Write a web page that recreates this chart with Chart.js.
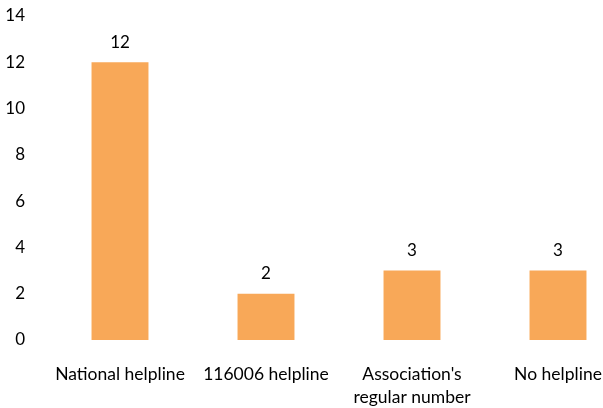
<!DOCTYPE html>
<html>
<head>
<meta charset="utf-8">
<script src="https://cdn.jsdelivr.net/npm/chart.js@4/dist/chart.umd.min.js"></script>
<style>
  html, body { margin: 0; padding: 0; background: #fff; overflow: hidden; }
  #wrap { width: 631px; height: 408px; }
</style>
</head>
<body>
<div id="wrap"><canvas id="helplineChart" width="631" height="408"></canvas></div>
<script>
const categories = [
  "National helpline",
  "116006 helpline",
  ["Association's", "regular number"],
  "No helpline"
];
const counts = [12, 2, 3, 3];
const yTicks = [0, 2, 4, 6, 8, 10, 12, 14];

const FONT = "Lato, 'Open Sans', sans-serif";

// value printed above each bar
const barValues = {
  id: "barValues",
  afterDatasetsDraw(chart) {
    const ctx = chart.ctx;
    const meta = chart.getDatasetMeta(0);
    ctx.save();
    ctx.font = "17px " + FONT;
    ctx.fillStyle = "#000";
    ctx.textAlign = "center";
    ctx.textBaseline = "middle";
    meta.data.forEach((bar, i) => {
      ctx.fillText(String(counts[i]), bar.x, bar.y - 20);
    });
    ctx.restore();
  }
};

const ctx = document.getElementById("helplineChart").getContext("2d");

new Chart(ctx, {
  type: "bar",
  data: {
    labels: categories,
    datasets: [
      {
        data: counts,
        backgroundColor: "#F8A858",
        borderWidth: 0,
        categoryPercentage: 1,
        barPercentage: 0.39
      }
    ]
  },
  plugins: [barValues],
  options: {
    responsive: false,
    animation: false,
    layout: { padding: 0 },
    plugins: {
      legend: { display: false },
      tooltip: { enabled: false }
    },
    scales: {
      x: {
        grid: { display: false, drawTicks: false },
        border: { display: false },
        ticks: {
          color: "#000",
          padding: 23,
          maxRotation: 0,
          autoSkip: false,
          font: { family: FONT, size: 17.5, lineHeight: 1.32 }
        },
        afterFit: (scale) => { scale.height = 68; }
      },
      y: {
        min: 0,
        max: 14,
        grid: { display: false, drawTicks: false },
        border: { display: false },
        afterBuildTicks: (scale) => {
          scale.ticks = yTicks.map((v) => ({ value: v }));
        },
        ticks: {
          color: "#000",
          padding: 22,
          font: { family: FONT, size: 17 }
        },
        afterFit: (scale) => {
          scale.width = 47;
          // keep the tick padding from pushing the plot area down
          scale.paddingTop = 16;
          scale.paddingBottom = 10;
        }
      }
    }
  }
});
</script>
</body>
</html>
